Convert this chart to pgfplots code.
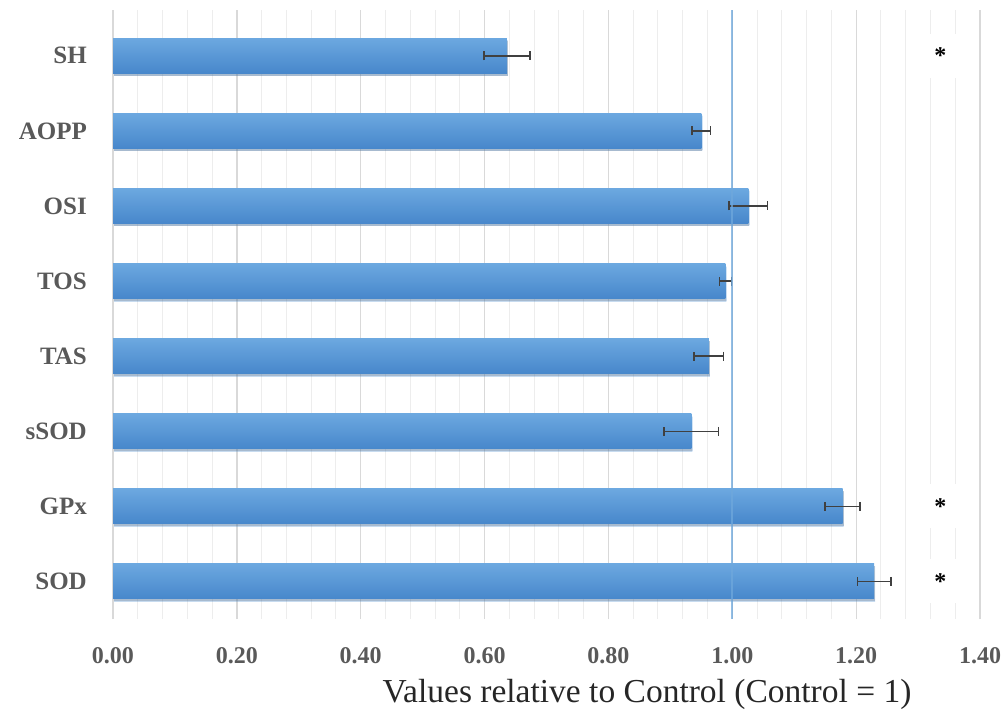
\documentclass[border=0pt]{standalone}
\usepackage{pgfplots}
\pgfplotsset{compat=1.18}
\usepackage{fontspec}
\setmainfont{Liberation Serif}
\usetikzlibrary{shadows}
\definecolor{barTop}{HTML}{6CA8E0}
\definecolor{barBot}{HTML}{4787CB}
\definecolor{refblue}{HTML}{6FA8DC}
\definecolor{gridmaj}{HTML}{D9D9D9}
\definecolor{gridmin}{HTML}{EDEDED}
\definecolor{lbl}{HTML}{595959}
\definecolor{errc}{HTML}{404040}
\pgfplotsset{mybar/.style={xbar, bar width=35pt, bar shift=0pt, draw=none, top color=barTop, bottom color=barBot,
  drop shadow={shadow xshift=1pt, shadow yshift=-2.5pt, fill=black!60, opacity=0.3}}}
\begin{document}
\begin{tikzpicture}
\begin{axis}[
  at={(113pt,94pt)}, anchor=south west,
  scale only axis, width=867pt, height=609pt,
  xmin=0, xmax=1.4, ymin=-0.5, ymax=7.61,
  axis line style={draw=none},
  tick style={draw=none},
  major tick length=0pt, minor tick length=0pt,
  xtick={0,0.2,0.4,0.6,0.8,1.0,1.2,1.4},
  minor x tick num=4,
  xmajorgrids, xminorgrids,
  major grid style={gridmaj, line width=1.3pt},
  minor grid style={gridmin, line width=1pt},
  ytick={0,1,2,3,4,5,6,7},
  yticklabels={SOD,GPx,sSOD,TAS,TOS,OSI,AOPP,SH},
  yticklabel style={font=\fontsize{25}{30}\selectfont\bfseries, text=lbl, anchor=east, inner sep=0pt, xshift=-26pt},
  xticklabel style={font=\fontsize{24}{28}\selectfont\bfseries, text=lbl, anchor=north, inner sep=0pt, yshift=-28pt,
    /pgf/number format/fixed, /pgf/number format/fixed zerofill, /pgf/number format/precision=2,
    /pgf/number format/assume math mode=true},
  xlabel={Values relative to Control (Control = 1)},
  xlabel style={at={(axis description cs:0.616,0)}, anchor=base, yshift=-83pt, font=\fontsize{33.5}{40}\selectfont, text=black!85, inner sep=0pt},
]
\addplot[mybar] coordinates {(1.229,0)};
\addplot[mybar] coordinates {(1.178,1)};
\addplot[mybar] coordinates {(0.934,2)};
\addplot[mybar] coordinates {(0.962,3)};
\addplot[mybar] coordinates {(0.989,4)};
\addplot[mybar] coordinates {(1.026,5)};
\addplot[mybar] coordinates {(0.950,6)};
\addplot[mybar] coordinates {(0.636,7)};
\addplot[draw=none, mark=none,
  error bars/.cd, x dir=both, x explicit, error mark=|,
  error bar style={line width=1.5pt, draw=errc},
  error mark options={line width=1.5pt, mark size=4.5pt, draw=errc}]
  coordinates {(1.229,0) +- (0.027,0) (1.178,1) +- (0.028,0) (0.934,2) +- (0.044,0) (0.962,3) +- (0.024,0)
               (0.989,4) +- (0.010,0) (1.026,5) +- (0.031,0) (0.950,6) +- (0.015,0) (0.636,7) +- (0.037,0)};
\addplot[refblue, line width=2pt, opacity=0.75, mark=none] coordinates {(1,-0.5) (1,7.61)};
\addplot[draw=none, mark=none, point meta=explicit symbolic,
  nodes near coords, nodes near coords align={center},
  every node near coord/.append style={fill=white, minimum width=38pt, minimum height=44pt, inner sep=0pt,
    font=\fontsize{24}{28}\selectfont\bfseries, text=black, anchor=center}]
  coordinates {(1.336,7) [*] (1.336,1) [*] (1.336,0) [*]};
\end{axis}
\pgfresetboundingbox
\path[use as bounding box] (0,0) rectangle (1001pt,713pt);
\end{tikzpicture}
\end{document}
